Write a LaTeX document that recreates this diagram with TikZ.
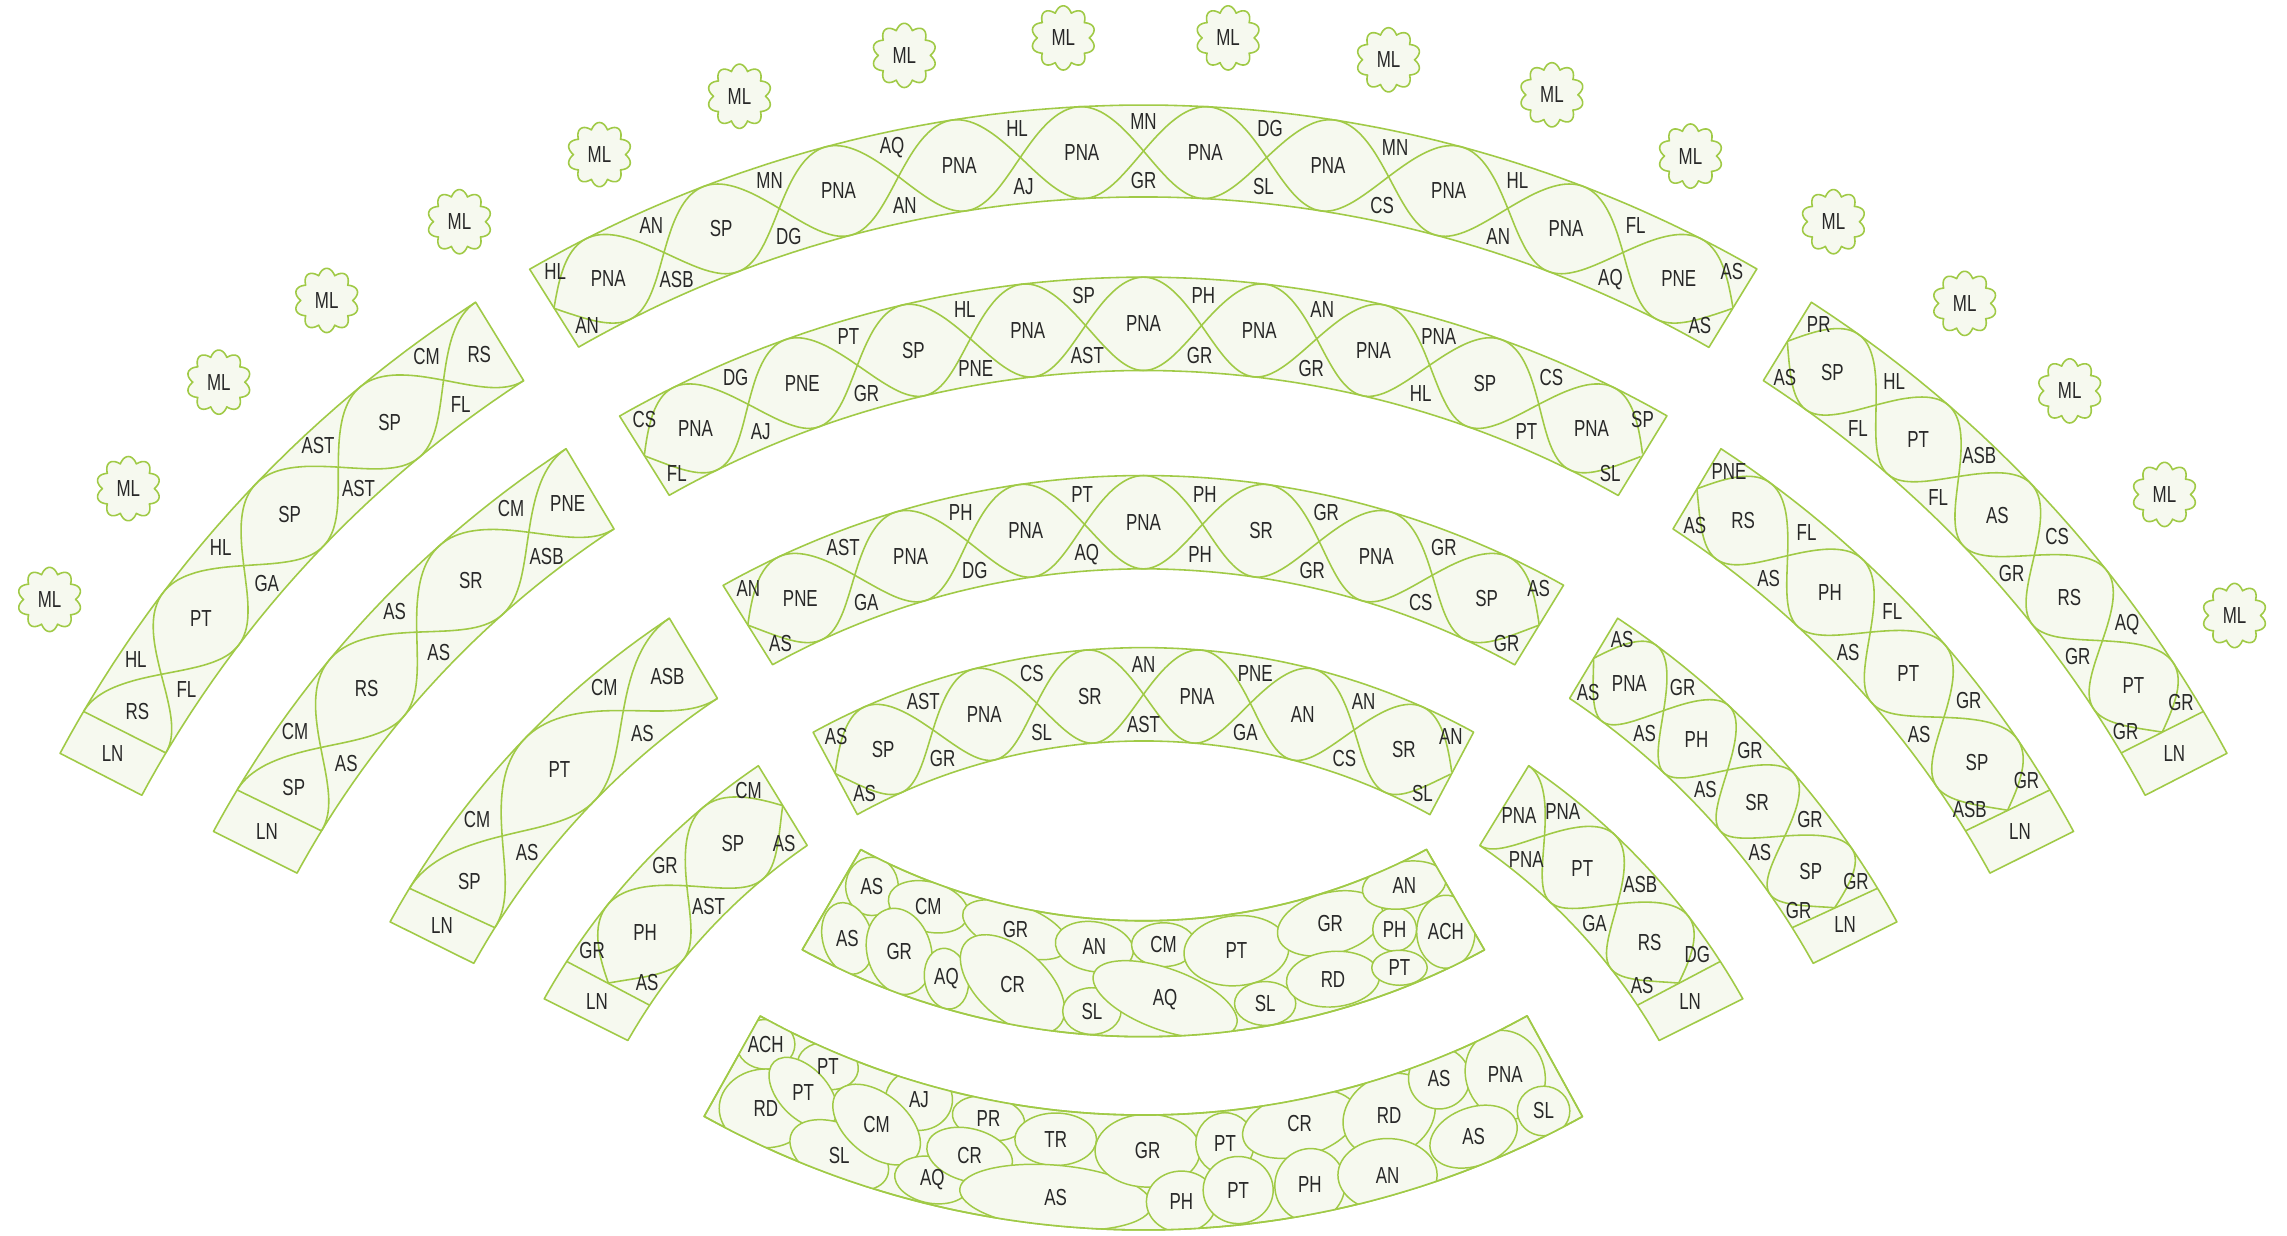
\documentclass[tikz,border=0pt]{standalone}
\usepackage{fontspec}
\newfontfamily\lblfamily[FakeStretch=0.73]{Liberation Sans}
\definecolor{linec}{RGB}{160,202,70}
\definecolor{fillc}{RGB}{246,249,239}
\definecolor{textc}{RGB}{40,40,40}
\newcommand\lblfont{\lblfamily\fontsize{6.6}{7.5}\selectfont}
\newcount\labn
\newcommand\setband[8]{\def\bcx{#1}\def\bcy{#2}\def\bri{#3}\def\bro{#4}\def\bai{#5}\def\baj{#6}\def\bao{#7}\def\bap{#8}}
\pgfmathdeclarefunction{bandx}{2}{\pgfmathparse{\bcx+(\bri+(\bro-\bri)*#2)*cos((\bai+(\baj-\bai)*#1)*(1-#2)+(\bao+(\bap-\bao)*#1)*#2)}}
\pgfmathdeclarefunction{bandy}{2}{\pgfmathparse{\bcy+(\bri+(\bro-\bri)*#2)*sin((\bai+(\baj-\bai)*#1)*(1-#2)+(\bao+(\bap-\bao)*#1)*#2)}}
\pgfmathdeclarefunction{bandu}{1}{\pgfmathparse{(1+cos(180*\bN*#1+\bph))/2}}
\newcommand\bandpath{plot[domain=0:1,samples=90,variable=\sv]({bandx(\sv,1)},{bandy(\sv,1)}) -- plot[domain=1:0,samples=90,variable=\sv]({bandx(\sv,0)},{bandy(\sv,0)}) -- cycle}
\newcommand\braid[2]{\def\bN{#1}\def\bph{#2}\pgfmathtruncatemacro\bsm{36*#1+1}%
\draw[braidline] plot[domain=0:1,samples=\bsm,variable=\sv]({bandx(\sv,bandu(\sv))},{bandy(\sv,bandu(\sv))});%
\draw[braidline] plot[domain=0:1,samples=\bsm,variable=\sv]({bandx(\sv,1-bandu(\sv))},{bandy(\sv,1-bandu(\sv))});}
\newcommand\divline{\draw[braidline] ({bandx(1,0)},{bandy(1,0)}) -- ({bandx(1,1)},{bandy(1,1)});}
\newcommand\lab[3]{\global\advance\labn by 1\relax\node[lbl] (t\the\labn) at ({bandx(#1,#2)},{bandy(#1,#2)}) {#3};}
\newcommand\lablist[4]{\foreach \lbltxt [count=\li from 0] in {#4}{\pgfmathsetmacro\lsv{#2+\li*(#3)}\lab{\lsv}{#1}{\lbltxt}}}
\newcommand\cloud[2]{\global\advance\labn by 1\relax
 \path[cloudstyle] plot[domain=0:360,samples=181,variable=\ca] ({#1+(17.8+4.2*abs(sin(5*\ca)))*cos(\ca)},{-#2+(17.8+4.2*abs(sin(5*\ca)))*sin(\ca)}) -- cycle;
 \node[lbl] (ml\the\labn) at (#1,-#2) {ML};}
\def\elistE{597.8/607.7/18/20/0/AS, 636.5/621.7/28/17/-15/CM, 581/643.4/17/25/15/AS, 616.5/652.3/22/30/15/GR, 696.2/637.4/38/17/-20/GR, 648.9/671/15/21/10/AQ, 694.2/674.7/43/24/-42/CR, 750.3/649.1/27/17/-10/AN, 797.8/647.7/22/15/0/CM, 748.6/693.2/20/16/0/SL, 798.8/685.2/52/21/-20/AQ, 847.7/651.8/36/24/5/PT, 867.4/688/21/15/0/SL, 912/633.1/37/21/15/GR, 913.9/671.3/32/19/5/RD, 956.2/637.2/15/15/0/PH, 962.8/606.8/29/16/10/AN, 959.5/663.5/19/12/0/PT, 991.3/638.8/20/25/0/ACH}
\def\elistF{525/716/20/17/0/ACH, 567.6/730.9/21/16/-10/PT, 525.1/759.9/32/27/0/RD, 550.6/749.1/17/29/43/PT, 630/754/23/21/0/AJ, 575.4/792/36/21/-25/SL, 601/771/35/21/-40/CM, 639.2/809/26/16/-10/AQ, 677.7/766.7/25/15/-10/PR, 664.8/791.9/30/18/-15/CR, 723.8/781.1/28/18/0/TR, 723.8/820.9/66/22/-5/AS, 786.8/788.9/36/25/0/GR, 810/823.9/24/21/0/PH, 839.9/783.9/20/21/0/PT, 848.9/815.9/24/23/0/PT, 891/770.6/40/22/15/CR, 898.1/812.4/24/25/-15/PH, 952.4/764.5/33/27/30/RD, 951.3/805.6/34/25/0/AN, 986.7/739.3/21/21/0/AS, 1032/737/27/31/20/PNA, 1010.3/779.3/31/20/20/AS, 1058.3/761.7/18/17/0/SL}
\begin{document}
\begin{tikzpicture}[x=0.14585mm,y=0.14585mm,
 bandstyle/.style={fill=fillc,draw=linec,line width=0.45pt,line join=round},
 bandedge/.style={draw=linec,line width=0.45pt,line join=round},
 braidline/.style={draw=linec,line width=0.45pt},
 ellstyle/.style={fill=fillc,draw=linec,line width=0.42pt},
 cloudstyle/.style={fill=fillc,draw=linec,line width=0.45pt,line join=round},
 lbl/.style={font=\lblfont,text=textc,inner sep=0pt}]
\fill[white] (0,-847) rectangle (1568,0);
\useasboundingbox (0,-847) rectangle (1568,0);
% clouds
\foreach \cx/\cy in {34/411, 88/335, 150/262, 224/206, 315/152, 411/106, 507/66, 620/38, 729/26, 842/26, 952/41, 1064/65, 1159/107, 1257/152, 1347/208, 1419/268, 1484/339, 1532/422}{\cloud{\cx}{\cy}}
% ring A top
\setband{784}{-915}{780}{843}{119.8}{60.2}{119.95}{60.05}
\path[bandstyle] \bandpath;
\braid{10}{-90}
\lablist{0.5}{0.05}{0.1}{PNA,SP,PNA,PNA,PNA,PNA,PNA,PNA,PNA,PNE}
\lablist{0.82}{0.1}{0.1}{AN,MN,AQ,HL,MN,DG,MN,HL,FL}
\lablist{0.18}{0.1}{0.1}{ASB,DG,AN,AJ,GR,SL,CS,AN,AQ}
\lab{0.016}{0.84}{HL}\lab{0.016}{0.16}{AN}\lab{0.984}{0.84}{AS}\lab{0.984}{0.16}{AS}
% ring B top
\setband{784}{-915}{661}{725}{119.5}{60.5}{119.7}{60.3}
\path[bandstyle] \bandpath;
\braid{9}{-90}
\lablist{0.5}{0.055556}{0.111111}{PNA,PNE,SP,PNA,PNA,PNA,PNA,SP,PNA}
\lablist{0.82}{0.111111}{0.111111}{DG,PT,HL,SP,PH,AN,PNA,CS}
\lablist{0.18}{0.111111}{0.111111}{AJ,GR,PNE,AST,GR,GR,HL,PT}
\lab{0.018}{0.84}{CS}\lab{0.018}{0.16}{FL}\lab{0.982}{0.84}{SP}\lab{0.982}{0.16}{SL}
% ring C top
\setband{784}{-915}{525}{589}{119.0}{61.0}{119.3}{60.7}
\path[bandstyle] \bandpath;
\braid{7}{-90}
\lablist{0.5}{0.071429}{0.142857}{PNE,PNA,PNA,PNA,SR,PNA,SP}
\lablist{0.82}{0.142857}{0.142857}{AST,PH,PT,PH,GR,GR}
\lablist{0.18}{0.142857}{0.142857}{GA,DG,AQ,PH,GR,CS}
\lab{0.023}{0.84}{AN}\lab{0.023}{0.16}{AS}\lab{0.977}{0.84}{AS}\lab{0.977}{0.16}{GR}
% ring D top
\setband{784}{-915}{407}{471}{118.85}{61.15}{118.75}{61.25}
\path[bandstyle] \bandpath;
\braid{6}{-90}
\lablist{0.5}{0.083333}{0.166667}{SP,PNA,SR,PNA,AN,SR}
\lablist{0.82}{0.166667}{0.166667}{AST,CS,AN,PNE,AN}
\lablist{0.18}{0.166667}{0.166667}{GR,SL,AST,GA,CS}
\lab{0.027}{0.84}{AS}\lab{0.027}{0.16}{AS}\lab{0.973}{0.84}{AN}\lab{0.973}{0.16}{SL}
% L1
\setband{784}{-915}{780}{843}{123.0}{151.7}{122.9}{151.8}
\path[bandstyle] \bandpath;
\setband{784}{-915}{780}{843}{123.0}{149.25}{122.9}{149.55}
\braid{4}{0}\divline
\lab{0.045}{0.5}{RS}\lablist{0.5}{0.25}{0.25}{SP,SP,PT}\lab{0.955}{0.5}{RS}
\lablist{0.82}{0.125}{0.25}{CM,AST,HL,HL}
\lablist{0.18}{0.125}{0.25}{FL,AST,GA,FL}
\setband{784}{-915}{780}{843}{149.25}{151.7}{149.55}{151.8}
\lab{0.5}{0.5}{LN}
% R1
\setband{784}{-915}{780}{843}{57.0}{28.3}{57.1}{28.2}
\path[bandstyle] \bandpath;
\setband{784}{-915}{780}{843}{57.0}{30.75}{57.1}{30.45}
\braid{5}{-90}\divline
\lablist{0.5}{0.1}{0.2}{SP,PT,AS,RS,PT}
\lab{0.032}{0.84}{PR}\lablist{0.82}{0.2}{0.2}{HL,ASB,CS,AQ}\lab{0.968}{0.84}{GR}
\lab{0.032}{0.16}{AS}\lablist{0.18}{0.2}{0.2}{FL,FL,GR,GR}\lab{0.968}{0.16}{GR}
\setband{784}{-915}{780}{843}{30.75}{28.3}{30.45}{28.2}
\lab{0.5}{0.5}{LN}
% L2
\setband{784}{-915}{661}{725}{123.3}{151.4}{123.1}{151.6}
\path[bandstyle] \bandpath;
\setband{784}{-915}{661}{725}{123.3}{148.5}{123.1}{149.0}
\braid{3}{0}\divline
\lab{0.06}{0.5}{PNE}\lablist{0.5}{0.33333}{0.33333}{SR,RS}\lab{0.94}{0.5}{SP}
\lablist{0.82}{0.16667}{0.33333}{CM,AS,CM}
\lablist{0.18}{0.16667}{0.33333}{ASB,AS,AS}
\setband{784}{-915}{661}{725}{148.5}{151.4}{149.0}{151.6}
\lab{0.5}{0.5}{LN}
% R2
\setband{784}{-915}{661}{725}{56.7}{28.6}{56.9}{28.4}
\path[bandstyle] \bandpath;
\setband{784}{-915}{661}{725}{56.7}{31.5}{56.9}{31.0}
\braid{4}{-90}\divline
\lablist{0.5}{0.125}{0.25}{RS,PH,PT,SP}
\lab{0.04}{0.84}{PNE}\lablist{0.82}{0.25}{0.25}{FL,FL,GR}\lab{0.96}{0.84}{GR}
\lab{0.04}{0.16}{AS}\lablist{0.18}{0.25}{0.25}{AS,AS,AS}\lab{0.96}{0.16}{ASB}
\setband{784}{-915}{661}{725}{31.5}{28.6}{31.0}{28.4}
\lab{0.5}{0.5}{LN}
% L3
\setband{784}{-915}{525}{589}{123.8}{151.0}{123.5}{151.3}
\path[bandstyle] \bandpath;
\setband{784}{-915}{525}{589}{123.8}{147.9}{123.5}{148.7}
\braid{2}{0}\divline
\lab{0.09}{0.5}{ASB}\lab{0.5}{0.5}{PT}\lab{0.91}{0.5}{SP}
\lablist{0.82}{0.25}{0.5}{CM,CM}
\lablist{0.18}{0.25}{0.5}{AS,AS}
\setband{784}{-915}{525}{589}{147.9}{151.0}{148.7}{151.3}
\lab{0.5}{0.5}{LN}
% R3
\setband{784}{-915}{525}{589}{56.2}{29.0}{56.5}{28.7}
\path[bandstyle] \bandpath;
\setband{784}{-915}{525}{589}{56.2}{32.1}{56.5}{31.3}
\braid{4}{-90}\divline
\lablist{0.5}{0.125}{0.25}{PNA,PH,SR,SP}
\lab{0.04}{0.84}{AS}\lablist{0.82}{0.25}{0.25}{GR,GR,GR}\lab{0.96}{0.84}{GR}
\lab{0.04}{0.16}{AS}\lablist{0.18}{0.25}{0.25}{AS,AS,AS}\lab{0.96}{0.16}{GR}
\setband{784}{-915}{525}{589}{32.1}{29.0}{31.3}{28.7}
\lab{0.5}{0.5}{LN}
% L4
\setband{784}{-915}{407}{471}{124.5}{150.3}{124.1}{150.75}
\path[bandstyle] \bandpath;
\setband{784}{-915}{407}{471}{124.5}{146.3}{124.1}{147.1}
\braid{2}{-90}\divline
\lablist{0.5}{0.25}{0.5}{SP,PH}
\lab{0.08}{0.84}{CM}\lab{0.5}{0.82}{GR}\lab{0.92}{0.84}{GR}
\lab{0.08}{0.16}{AS}\lab{0.5}{0.18}{AST}\lab{0.92}{0.16}{AS}
\setband{784}{-915}{407}{471}{146.3}{150.3}{147.1}{150.75}
\lab{0.5}{0.5}{LN}
% R4
\setband{784}{-915}{407}{471}{55.5}{29.7}{55.9}{29.25}
\path[bandstyle] \bandpath;
\setband{784}{-915}{407}{471}{55.5}{33.7}{55.9}{32.9}
\braid{2.5}{0}\divline
\lab{0.072}{0.5}{PNA}\lab{0.2}{0.82}{PNA}\lab{0.2}{0.18}{PNA}
\lab{0.4}{0.5}{PT}\lab{0.6}{0.82}{ASB}\lab{0.6}{0.18}{GA}
\lab{0.8}{0.5}{RS}\lab{0.936}{0.84}{DG}\lab{0.936}{0.16}{AS}
\setband{784}{-915}{407}{471}{33.7}{29.7}{32.9}{29.25}
\lab{0.5}{0.5}{LN}
% band E
\setband{784}{-222}{409.3}{488.8}{241.7}{298.3}{241.4}{298.6}
\path[bandstyle] \bandpath;
\begin{scope}
\clip \bandpath;
\foreach \ex/\ey/\ea/\eb/\er/\et in \elistE {\path[ellstyle,shift={(\ex,-\ey)},rotate=\er] (0,0) ellipse [x radius={\ea*0.14585mm}, y radius={\eb*0.14585mm}];}
\end{scope}
\path[bandedge] \bandpath;
\foreach \ex/\ey/\ea/\eb/\er/\et in \elistE {\global\advance\labn by 1\relax\node[lbl] (e\the\labn) at (\ex,-\ey) {\et};}
% band F
\setband{784}{-222}{542.5}{621.3}{241.0}{299.0}{241.0}{299.0}
\path[bandstyle] \bandpath;
\begin{scope}
\clip \bandpath;
\foreach \ex/\ey/\ea/\eb/\er/\et in \elistF {\path[ellstyle,shift={(\ex,-\ey)},rotate=\er] (0,0) ellipse [x radius={\ea*0.14585mm}, y radius={\eb*0.14585mm}];}
\end{scope}
\path[bandedge] \bandpath;
\foreach \ex/\ey/\ea/\eb/\er/\et in \elistF {\global\advance\labn by 1\relax\node[lbl] (f\the\labn) at (\ex,-\ey) {\et};}
\end{tikzpicture}
\end{document}
